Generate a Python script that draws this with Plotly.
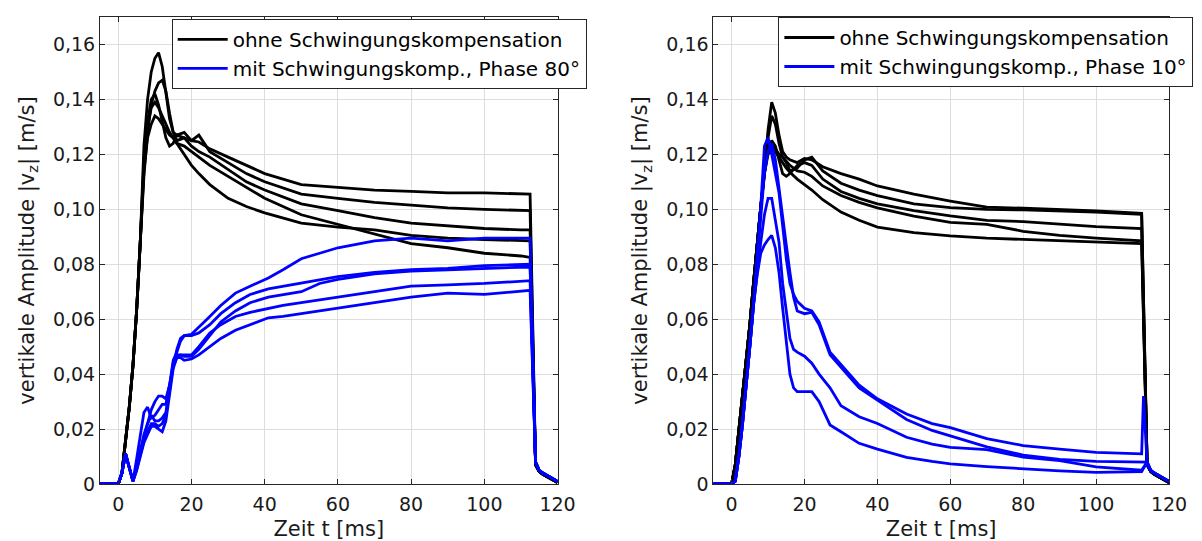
import plotly.graph_objects as go
from plotly.subplots import make_subplots

FONT = "DejaVu Sans"
BLACK = "#000000"
BLUE = "#0000ff"
AXIS_COLOR = "#262626"
GRID_COLOR = "#dedede"

LEGEND_BLACK = "ohne Schwingungskompensation"
LEGEND_BLUE_L = "mit Schwingungskomp., Phase 80°"
LEGEND_BLUE_R = "mit Schwingungskomp., Phase 10°"
X_TITLE = "Zeit t [ms]"
Y_TITLE = "vertikale Amplitude |v<sub>z</sub>| [m/s]"

X_TICKS = [0, 20, 40, 60, 80, 100, 120]
Y_TICKS = [0, 0.02, 0.04, 0.06, 0.08, 0.10, 0.12, 0.14, 0.16]
Y_TICK_TEXT = ["0", "0,02", "0,04", "0,06", "0,08", "0,10", "0,12", "0,14", "0,16"]

# ---- left panel (Phase 80°) -------------------------------------------
T_RISE_L = [-5, 0, 1, 2, 3, 4, 5, 6]
BLACK_RISE_L = [0, 0, 0.004, 0.015, 0.028, 0.043, 0.063, 0.088]
T_BLACK_L = [7, 8, 9, 10, 11, 12, 13, 14, 15, 16, 18, 20, 22, 25, 30, 35,
             40, 50, 60, 70, 80, 90, 100, 110, 112.5]
BLACK_L_A = [0.123, 0.140, 0.150, 0.155, 0.157, 0.152, 0.142, 0.133, 0.128, 0.127, 0.128,
             0.125, 0.1245, 0.122, 0.119, 0.116, 0.113, 0.109, 0.108, 0.107, 0.1065, 0.106,
             0.106, 0.1055, 0.1055]
BLACK_L_B = [0.112, 0.128, 0.138, 0.143, 0.146, 0.147, 0.143, 0.135, 0.128, 0.125, 0.126,
             0.125, 0.127, 0.121, 0.117, 0.113, 0.110, 0.1055, 0.104, 0.1025, 0.1015, 0.1005,
             0.100, 0.0995, 0.0995]
BLACK_L_C = [0.118, 0.132, 0.140, 0.142, 0.138, 0.132, 0.126, 0.123, 0.124, 0.127, 0.126,
             0.123, 0.121, 0.119, 0.1145, 0.110, 0.107, 0.102, 0.0995, 0.097, 0.095, 0.094,
             0.093, 0.0925, 0.0925]
BLACK_L_D = [0.116, 0.130, 0.137, 0.139, 0.137, 0.134, 0.131, 0.128, 0.126, 0.124, 0.123,
             0.121, 0.119, 0.116, 0.112, 0.108, 0.104, 0.098, 0.0945, 0.091, 0.0875, 0.086,
             0.084, 0.083, 0.0825]
BLACK_L_E = [0.114, 0.126, 0.131, 0.134, 0.133, 0.131, 0.129, 0.127, 0.126, 0.124, 0.120,
             0.116, 0.113, 0.109, 0.104, 0.101, 0.0987, 0.095, 0.0935, 0.0925, 0.0905, 0.0895,
             0.089, 0.0885, 0.0885]

T_BLUE_START_L = [-5, 0, 1, 2, 3, 4]
BLUE_START_L = [0, 0, 0.004, 0.011, 0.006, 0.001]
T_BLUE_L = [5, 6, 7, 8, 9, 10, 11, 12, 13, 14, 15, 16, 17, 18, 20, 22, 25, 28, 32, 36,
            41, 45, 50, 55, 60, 70, 80, 90, 100, 112.5]
BLUE_L_F = [0.006, 0.012, 0.017, 0.022, 0.027, 0.030, 0.032, 0.032, 0.031, 0.036, 0.043,
            0.049, 0.053, 0.054, 0.0545, 0.057, 0.061, 0.065, 0.0695, 0.072, 0.075, 0.078,
            0.082, 0.084, 0.086, 0.0885, 0.0895, 0.0885, 0.0895, 0.0895]
BLUE_L_G = [0.009, 0.018, 0.026, 0.028, 0.024, 0.025, 0.027, 0.029, 0.029, 0.036, 0.045,
            0.048, 0.052, 0.054, 0.054, 0.055, 0.058, 0.062, 0.066, 0.069, 0.071, 0.072,
            0.073, 0.0745, 0.0755, 0.077, 0.078, 0.0785, 0.0795, 0.080]
BLUE_L_H = [0.006, 0.012, 0.018, 0.022, 0.025, 0.023, 0.023, 0.024, 0.026, 0.035, 0.044,
            0.047, 0.047, 0.0465, 0.0465, 0.049, 0.054, 0.059, 0.063, 0.066, 0.068, 0.069,
            0.070, 0.073, 0.0745, 0.0765, 0.0775, 0.078, 0.0785, 0.079]
BLUE_L_I = [0.005, 0.011, 0.016, 0.019, 0.022, 0.022, 0.021, 0.022, 0.025, 0.034, 0.043,
            0.046, 0.047, 0.047, 0.047, 0.050, 0.055, 0.058, 0.061, 0.0625, 0.064, 0.065,
            0.066, 0.067, 0.068, 0.070, 0.072, 0.0725, 0.073, 0.074]
BLUE_L_J = [0.005, 0.010, 0.015, 0.018, 0.021, 0.021, 0.020, 0.019, 0.023, 0.033, 0.042,
            0.046, 0.046, 0.045, 0.0455, 0.047, 0.050, 0.053, 0.056, 0.058, 0.0605, 0.061,
            0.062, 0.063, 0.064, 0.066, 0.068, 0.0695, 0.069, 0.0705]

# ---- right panel (Phase 10°) ------------------------------------------
T_RISE_R = [-5, 0, 1, 2, 3, 4, 5, 6, 7, 8]
BLACK_RISE_R = [0, 0, 0.007, 0.020, 0.032, 0.044, 0.058, 0.073, 0.088, 0.101]
T_BLACK_R = [9, 10, 11, 12, 13, 14, 15, 16, 18, 20, 22, 25, 30, 35, 40, 50, 60, 70,
             80, 90, 100, 112.5]
BLACK_R_A = [0.114, 0.129, 0.139, 0.135, 0.127, 0.121, 0.119, 0.118, 0.117, 0.1185, 0.118,
             0.1155, 0.113, 0.111, 0.1085, 0.1055, 0.103, 0.1008, 0.1004, 0.100, 0.0994, 0.0985]
BLACK_R_B = [0.113, 0.126, 0.134, 0.131, 0.124, 0.119, 0.117, 0.114, 0.115, 0.118, 0.119,
             0.114, 0.1095, 0.107, 0.105, 0.102, 0.1006, 0.100, 0.0998, 0.0995, 0.099, 0.0982]
BLACK_R_C = [0.113, 0.122, 0.125, 0.123, 0.118, 0.113, 0.112, 0.113, 0.116, 0.117, 0.116,
             0.111, 0.1065, 0.104, 0.102, 0.0995, 0.0976, 0.096, 0.0955, 0.0945, 0.0937, 0.093]
BLACK_R_D = [0.114, 0.121, 0.1235, 0.122, 0.120, 0.119, 0.1175, 0.116, 0.114, 0.1135, 0.112,
             0.1085, 0.105, 0.1025, 0.1005, 0.0975, 0.0952, 0.0945, 0.092, 0.0905, 0.0895, 0.0885]
BLACK_R_E = [0.113, 0.120, 0.122, 0.121, 0.119, 0.117, 0.115, 0.1135, 0.111, 0.109, 0.107,
             0.1035, 0.099, 0.096, 0.0935, 0.0915, 0.0903, 0.0895, 0.089, 0.0885, 0.088, 0.0875]

T_BLUE_START_R = [-5, 0, 1, 2, 3, 4, 5, 6]
BLUE_START_R = [0, 0, 0.001, 0.010, 0.022, 0.035, 0.050, 0.065]
T_BLUE_R = [7, 8, 9, 10, 11, 12, 13, 14, 15, 16, 17, 18, 20, 22, 24, 27, 30, 35, 40, 48,
            55, 60, 70, 80, 90, 100, 112.5]
BLUE_R_F = [0.082, 0.101, 0.123, 0.126, 0.120, 0.113, 0.106, 0.094, 0.082, 0.073, 0.069,
            0.0665, 0.064, 0.063, 0.059, 0.048, 0.0435, 0.036, 0.031, 0.0255, 0.022, 0.0205,
            0.0165, 0.014, 0.0127, 0.0115, 0.011]
BLUE_R_G = [0.080, 0.098, 0.113, 0.121, 0.124, 0.118, 0.107, 0.097, 0.087, 0.077, 0.068,
            0.063, 0.062, 0.0625, 0.058, 0.047, 0.0425, 0.035, 0.0305, 0.0235, 0.0195, 0.0175,
            0.0135, 0.0105, 0.009, 0.0082, 0.008]
BLUE_R_H = [0.077, 0.088, 0.098, 0.104, 0.104, 0.096, 0.088, 0.073, 0.062, 0.053, 0.049,
            0.048, 0.0465, 0.044, 0.040, 0.035, 0.0285, 0.0245, 0.022, 0.017, 0.0145, 0.0133,
            0.0125, 0.0098, 0.0085, 0.0062, 0.005]
BLUE_R_I = [0.076, 0.084, 0.087, 0.089, 0.0905, 0.086, 0.077, 0.064, 0.051, 0.040, 0.035,
            0.0336, 0.0336, 0.0336, 0.030, 0.0215, 0.019, 0.0148, 0.0127, 0.0097, 0.0082, 0.0073,
            0.0063, 0.0055, 0.0048, 0.0042, 0.0045]

# shut-off at the end of the measurement
T_TAIL = [114, 115, 116, 118, 120]
BLACK_TAIL = [0.007, 0.0045, 0.0035, 0.002, 0.0005]
BLUE_TAIL = [0.008, 0.005, 0.004, 0.0025, 0.001]
T_SPIKE = [113, 114, 115, 116, 118, 120]
BLUE_SPIKE = [0.032, 0.007, 0.005, 0.004, 0.0025, 0.001]

PANELS = [
    {
        "col": 1, "legend": "legend", "blue_name": LEGEND_BLUE_L,
        "black": (T_RISE_L, BLACK_RISE_L, T_BLACK_L,
                  [BLACK_L_A, BLACK_L_B, BLACK_L_C, BLACK_L_D, BLACK_L_E]),
        "blue": (T_BLUE_START_L, BLUE_START_L, T_BLUE_L,
                 [BLUE_L_F, BLUE_L_G, BLUE_L_H, BLUE_L_I, BLUE_L_J]),
        "spike": None,
    },
    {
        "col": 2, "legend": "legend2", "blue_name": LEGEND_BLUE_R,
        "black": (T_RISE_R, BLACK_RISE_R, T_BLACK_R,
                  [BLACK_R_A, BLACK_R_B, BLACK_R_C, BLACK_R_D, BLACK_R_E]),
        "blue": (T_BLUE_START_R, BLUE_START_R, T_BLUE_R,
                 [BLUE_R_F, BLUE_R_G, BLUE_R_H, BLUE_R_I]),
        "spike": 0,  # index of the blue run with the switch-off spike
    },
]

fig = make_subplots(rows=1, cols=2)

for p in PANELS:
    t0, y0, t1, runs = p["black"]
    for i, run in enumerate(runs):
        fig.add_trace(
            go.Scatter(
                x=t0 + t1 + T_TAIL, y=y0 + run + BLACK_TAIL,
                mode="lines", line=dict(color=BLACK, width=2.8),
                name=LEGEND_BLACK, legend=p["legend"],
                showlegend=(i == 0), hoverinfo="skip",
            ),
            row=1, col=p["col"],
        )
    t0, y0, t1, runs = p["blue"]
    for i, run in enumerate(runs):
        if p["spike"] == i:
            tx, ty = T_SPIKE, BLUE_SPIKE
        else:
            tx, ty = T_TAIL, BLUE_TAIL
        fig.add_trace(
            go.Scatter(
                x=t0 + t1 + tx, y=y0 + run + ty,
                mode="lines", line=dict(color=BLUE, width=2.8),
                name=p["blue_name"], legend=p["legend"],
                showlegend=(i == 0), hoverinfo="skip",
            ),
            row=1, col=p["col"],
        )

legend_style = dict(
    bgcolor="white", bordercolor=AXIS_COLOR, borderwidth=1,
    font=dict(family=FONT, size=20, color="black"),
    xanchor="left", yanchor="top", itemwidth=50,
)

# the page body keeps its default 8 px margin, so the figure is 8 px smaller
fig.update_layout(
    width=1194, height=533,
    margin=dict(l=92, r=32, t=9, b=57),
    paper_bgcolor="white", plot_bgcolor="white",
    font=dict(family=FONT, size=19, color="black"),
    legend=dict(x=0.067, y=0.996, **legend_style),
    legend2=dict(x=0.634, y=1.0, **legend_style),
)

domains = {1: [0, 0.428], 2: [0.5738, 1.0]}
for col in (1, 2):
    fig.update_xaxes(
        domain=domains[col], range=[-5, 120], tickvals=X_TICKS, automargin=False,
        showgrid=True, gridcolor=GRID_COLOR, gridwidth=1, zeroline=False,
        showline=True, linecolor=AXIS_COLOR, linewidth=1, mirror="ticks",
        ticks="inside", ticklen=5, tickcolor=AXIS_COLOR, ticklabelstandoff=3,
        tickfont=dict(family=FONT, size=19, color="#1a1a1a"),
        title=dict(text=X_TITLE, font=dict(family=FONT, size=21, color="#1a1a1a"), standoff=7),
        row=1, col=col,
    )
    fig.update_yaxes(
        range=[0, 0.17], tickvals=Y_TICKS, ticktext=Y_TICK_TEXT, automargin=False,
        showgrid=True, gridcolor=GRID_COLOR, gridwidth=1, zeroline=False,
        showline=True, linecolor=AXIS_COLOR, linewidth=1, mirror="ticks",
        ticks="inside", ticklen=5, tickcolor=AXIS_COLOR,
        tickfont=dict(family=FONT, size=19, color="#1a1a1a"),
        title=dict(text=Y_TITLE, font=dict(family=FONT, size=21, color="#1a1a1a"), standoff=12),
        row=1, col=col,
    )

fig.write_html("out.html")
